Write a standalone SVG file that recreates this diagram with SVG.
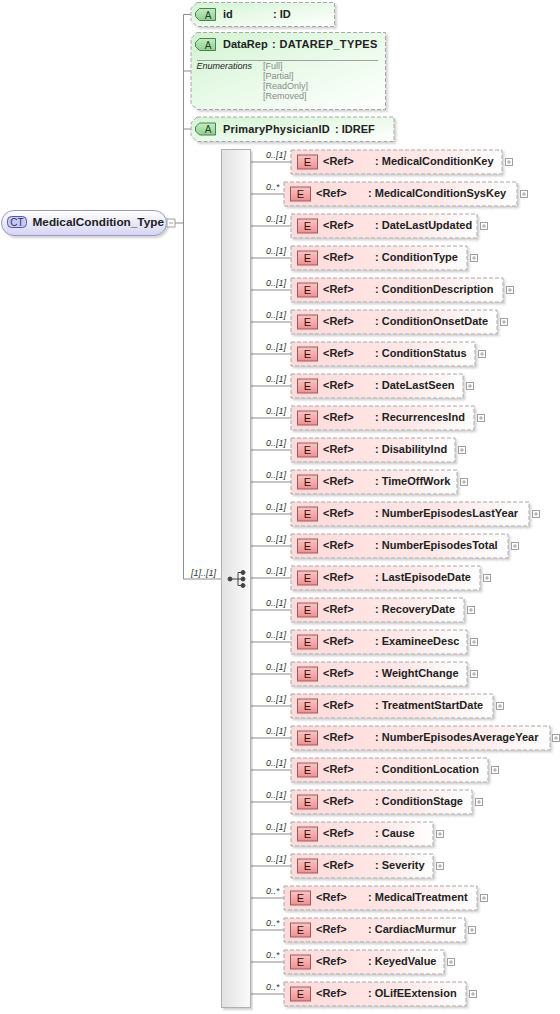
<svg xmlns="http://www.w3.org/2000/svg" xmlns:xlink="http://www.w3.org/1999/xlink" width="560" height="1014" viewBox="0 0 560 1014">
<style>
text{font-family:"Liberation Sans",Arial,Helvetica,sans-serif}
.b{font-weight:bold;font-size:11px;fill:#222}
.card{font-style:italic;font-size:9px;fill:#333}
.et{font-size:11px;fill:#3a1010;text-anchor:middle}
.box{fill:url(#elG);stroke:#a8a8a8;stroke-dasharray:4 2;filter:url(#sh)}
.abox{fill:url(#atG);stroke:#a8a8a8;stroke-dasharray:4 2;filter:url(#sh)}
.con{stroke:#8c8c8c;stroke-width:1;fill:none}
.enum{font-size:9px;fill:#8a8a8a}
</style>
<defs>
<filter id="sh" x="-5%" y="-20%" width="112%" height="150%">
<feDropShadow dx="2" dy="2" stdDeviation="1.2" flood-color="#000" flood-opacity="0.18"/>
</filter>
<linearGradient id="elG" x1="0" y1="0" x2="1" y2="0">
<stop offset="0" stop-color="#ffdada"/><stop offset="0.65" stop-color="#ffe8e8"/><stop offset="1" stop-color="#ffffff"/>
</linearGradient>
<linearGradient id="atG" x1="0" y1="0" x2="1" y2="1">
<stop offset="0" stop-color="#d2f4d2"/><stop offset="0.6" stop-color="#eefbee"/><stop offset="1" stop-color="#ffffff"/>
</linearGradient>
<linearGradient id="ctG" x1="0" y1="0" x2="0" y2="1">
<stop offset="0" stop-color="#ffffff"/><stop offset="1" stop-color="#d4d4f6"/>
</linearGradient>
<linearGradient id="ebG" x1="0" y1="0" x2="0" y2="1">
<stop offset="0" stop-color="#fbc4c4"/><stop offset="1" stop-color="#ee9090"/>
</linearGradient>
<linearGradient id="abG" x1="0" y1="0" x2="0" y2="1">
<stop offset="0" stop-color="#c4ecc4"/><stop offset="1" stop-color="#8ed08e"/>
</linearGradient>
<linearGradient id="barG" x1="0" y1="0" x2="1" y2="0">
<stop offset="0" stop-color="#e2e2e2"/><stop offset="1" stop-color="#fafafa"/>
</linearGradient>
<g id="eb"><rect x="0.5" y="0.5" width="20" height="14" fill="url(#ebG)" stroke="#9a5a5a"/></g>
<g id="ab"><path d="M4.5 0.5H20.5V12.5H4.5L0.5 8.5V4.5Z" fill="url(#abG)" stroke="#4f7f4f"/></g>
<g id="pl"><rect x="0.5" y="0.5" width="7" height="7" fill="#fff" stroke="#a0a0a0"/><path d="M2 4H6M4 2V6" stroke="#a0a0a0"/></g>
</defs>

<g id="connectors">
<path class="con" d="M183.5 14.5V579M183.5 14.5H191M183.5 71H191M183.5 129H191M175 223H183.5M183.5 579H221"/>
<text class="card" x="191" y="576">[1]..[1]</text>
<path class="con" d="M251 162H291M251 194H284M251 226H291M251 258H291M251 290H291M251 322H291M251 354H291M251 386H291M251 418H291M251 450H291M251 482H291M251 514H291M251 546H291M251 578H291M251 610H291M251 642H291M251 674H291M251 706H291M251 738H291M251 770H291M251 802H291M251 834H291M251 866H291M251 898H284M251 930H284M251 962H284M251 994H284"/>
<text class="card" x="266" y="158">0..[1]</text>
<text class="card" x="266" y="190">0..*</text>
<text class="card" x="266" y="222">0..[1]</text>
<text class="card" x="266" y="254">0..[1]</text>
<text class="card" x="266" y="286">0..[1]</text>
<text class="card" x="266" y="318">0..[1]</text>
<text class="card" x="266" y="350">0..[1]</text>
<text class="card" x="266" y="382">0..[1]</text>
<text class="card" x="266" y="414">0..[1]</text>
<text class="card" x="266" y="446">0..[1]</text>
<text class="card" x="266" y="478">0..[1]</text>
<text class="card" x="266" y="510">0..[1]</text>
<text class="card" x="266" y="542">0..[1]</text>
<text class="card" x="266" y="574">0..[1]</text>
<text class="card" x="266" y="606">0..[1]</text>
<text class="card" x="266" y="638">0..[1]</text>
<text class="card" x="266" y="670">0..[1]</text>
<text class="card" x="266" y="702">0..[1]</text>
<text class="card" x="266" y="734">0..[1]</text>
<text class="card" x="266" y="766">0..[1]</text>
<text class="card" x="266" y="798">0..[1]</text>
<text class="card" x="266" y="830">0..[1]</text>
<text class="card" x="266" y="862">0..[1]</text>
<text class="card" x="266" y="894">0..*</text>
<text class="card" x="266" y="926">0..*</text>
<text class="card" x="266" y="958">0..*</text>
<text class="card" x="266" y="990">0..*</text>
</g>

<g id="ct-MedicalCondition_Type">
<rect x="1.5" y="210.5" width="165" height="25" rx="12.5" fill="url(#ctG)" stroke="#9a9ac0" filter="url(#sh)"/>
<rect x="7.5" y="216.5" width="19" height="11" rx="4" fill="#c8c8f4" stroke="#5858a0"/>
<text x="17" y="225.5" font-size="10" fill="#30306a" text-anchor="middle">CT</text>
<text class="b" x="32.5" y="226" style="font-size:11.8px">MedicalCondition_Type</text>
<rect x="167" y="219" width="8" height="8" fill="#fff" stroke="#a0a0a0"/>
<path d="M169 223H173" stroke="#a0a0a0"/>
</g>

<g id="attr-id">
<path class="abox" d="M197 2.5H334.5V26.5H197L191 20.5V8.5Z"/>
<use href="#ab" x="195" y="8"/>
<text x="208" y="18.5" font-size="10" fill="#1e401e" text-anchor="middle">A</text>
<text class="b" x="223" y="18">id</text>
<text class="b" x="273" y="18">: ID</text>
</g>

<g id="attr-DataRep">
<path class="abox" d="M197 32.5H385.5V109.5H197L191 103.5V38.5Z"/>
<use href="#ab" x="195" y="38"/>
<text x="208" y="48.5" font-size="10" fill="#1e401e" text-anchor="middle">A</text>
<text class="b" x="223" y="48">DataRep</text>
<text class="b" x="272" y="48" letter-spacing="0.35">: DATAREP_TYPES</text>
<path d="M197 60.5H378" stroke="#a0a0a0"/>
<text x="196.5" y="69" font-size="9" font-style="italic" fill="#222">Enumerations</text>
<text class="enum" x="263" y="69">[Full]</text>
<text class="enum" x="263" y="79">[Partial]</text>
<text class="enum" x="263" y="89">[ReadOnly]</text>
<text class="enum" x="263" y="99">[Removed]</text>
</g>

<g id="attr-PrimaryPhysicianID">
<path class="abox" d="M197 117H394V141.5H197L191 135.5V123Z"/>
<use href="#ab" x="195" y="122.5"/>
<text x="208" y="133" font-size="10" fill="#1e401e" text-anchor="middle">A</text>
<text class="b" x="223" y="132.5" letter-spacing="0.2">PrimaryPhysicianID</text>
<text class="b" x="335" y="132.5">: IDREF</text>
</g>

<g id="sequence">
<rect x="221.5" y="149.5" width="29" height="858" fill="url(#barG)" stroke="#b0b0b0" filter="url(#sh)"/>
<g fill="#444" stroke="#444">
<path d="M230 579H238M238 572.5V585.5M238 572.5H243M238 579H243M238 585.5H243" fill="none"/>
<circle cx="230" cy="579" r="2"/>
<circle cx="243" cy="572.5" r="2"/>
<circle cx="243" cy="579" r="2"/>
<circle cx="243" cy="585.5" r="2"/>
</g>
</g>

<g id="el-MedicalConditionKey">
<rect class="box" x="291" y="150" width="211" height="24"/>
<use href="#eb" x="297" y="154.5"/><text class="et" x="307.5" y="166">E</text>
<text class="b" x="323" y="165">&lt;Ref&gt;</text><text class="b" x="375" y="165">: MedicalConditionKey</text>
<use href="#pl" x="505" y="158"/>
</g>
<g id="el-MedicalConditionSysKey">
<rect class="box" x="284" y="182" width="233" height="24"/>
<use href="#eb" x="290" y="186.5"/><text class="et" x="300.5" y="198">E</text>
<text class="b" x="316" y="197">&lt;Ref&gt;</text><text class="b" x="368" y="197">: MedicalConditionSysKey</text>
<use href="#pl" x="520" y="190"/>
</g>
<g id="el-DateLastUpdated">
<rect class="box" x="291" y="214" width="186" height="24"/>
<use href="#eb" x="297" y="218.5"/><text class="et" x="307.5" y="230">E</text>
<text class="b" x="323" y="229">&lt;Ref&gt;</text><text class="b" x="375" y="229">: DateLastUpdated</text>
<use href="#pl" x="480" y="222"/>
</g>
<g id="el-ConditionType">
<rect class="box" x="291" y="246" width="176" height="24"/>
<use href="#eb" x="297" y="250.5"/><text class="et" x="307.5" y="262">E</text>
<text class="b" x="323" y="261">&lt;Ref&gt;</text><text class="b" x="375" y="261">: ConditionType</text>
<use href="#pl" x="470" y="254"/>
</g>
<g id="el-ConditionDescription">
<rect class="box" x="291" y="278" width="212" height="24"/>
<use href="#eb" x="297" y="282.5"/><text class="et" x="307.5" y="294">E</text>
<text class="b" x="323" y="293">&lt;Ref&gt;</text><text class="b" x="375" y="293">: ConditionDescription</text>
<use href="#pl" x="506" y="286"/>
</g>
<g id="el-ConditionOnsetDate">
<rect class="box" x="291" y="310" width="206" height="24"/>
<use href="#eb" x="297" y="314.5"/><text class="et" x="307.5" y="326">E</text>
<text class="b" x="323" y="325">&lt;Ref&gt;</text><text class="b" x="375" y="325">: ConditionOnsetDate</text>
<use href="#pl" x="500" y="318"/>
</g>
<g id="el-ConditionStatus">
<rect class="box" x="291" y="342" width="184" height="24"/>
<use href="#eb" x="297" y="346.5"/><text class="et" x="307.5" y="358">E</text>
<text class="b" x="323" y="357">&lt;Ref&gt;</text><text class="b" x="375" y="357">: ConditionStatus</text>
<use href="#pl" x="478" y="350"/>
</g>
<g id="el-DateLastSeen">
<rect class="box" x="291" y="374" width="172" height="24"/>
<use href="#eb" x="297" y="378.5"/><text class="et" x="307.5" y="390">E</text>
<text class="b" x="323" y="389">&lt;Ref&gt;</text><text class="b" x="375" y="389">: DateLastSeen</text>
<use href="#pl" x="466" y="382"/>
</g>
<g id="el-RecurrencesInd">
<rect class="box" x="291" y="406" width="183" height="24"/>
<use href="#eb" x="297" y="410.5"/><text class="et" x="307.5" y="422">E</text>
<text class="b" x="323" y="421">&lt;Ref&gt;</text><text class="b" x="375" y="421">: RecurrencesInd</text>
<use href="#pl" x="477" y="414"/>
</g>
<g id="el-DisabilityInd">
<rect class="box" x="291" y="438" width="164" height="24"/>
<use href="#eb" x="297" y="442.5"/><text class="et" x="307.5" y="454">E</text>
<text class="b" x="323" y="453">&lt;Ref&gt;</text><text class="b" x="375" y="453">: DisabilityInd</text>
<use href="#pl" x="458" y="446"/>
</g>
<g id="el-TimeOffWork">
<rect class="box" x="291" y="470" width="166" height="24"/>
<use href="#eb" x="297" y="474.5"/><text class="et" x="307.5" y="486">E</text>
<text class="b" x="323" y="485">&lt;Ref&gt;</text><text class="b" x="375" y="485">: TimeOffWork</text>
<use href="#pl" x="460" y="478"/>
</g>
<g id="el-NumberEpisodesLastYear">
<rect class="box" x="291" y="502" width="238" height="24"/>
<use href="#eb" x="297" y="506.5"/><text class="et" x="307.5" y="518">E</text>
<text class="b" x="323" y="517">&lt;Ref&gt;</text><text class="b" x="375" y="517">: NumberEpisodesLastYear</text>
<use href="#pl" x="532" y="510"/>
</g>
<g id="el-NumberEpisodesTotal">
<rect class="box" x="291" y="534" width="217" height="24"/>
<use href="#eb" x="297" y="538.5"/><text class="et" x="307.5" y="550">E</text>
<text class="b" x="323" y="549">&lt;Ref&gt;</text><text class="b" x="375" y="549">: NumberEpisodesTotal</text>
<use href="#pl" x="511" y="542"/>
</g>
<g id="el-LastEpisodeDate">
<rect class="box" x="291" y="566" width="189" height="24"/>
<use href="#eb" x="297" y="570.5"/><text class="et" x="307.5" y="582">E</text>
<text class="b" x="323" y="581">&lt;Ref&gt;</text><text class="b" x="375" y="581">: LastEpisodeDate</text>
<use href="#pl" x="483" y="574"/>
</g>
<g id="el-RecoveryDate">
<rect class="box" x="291" y="598" width="173" height="24"/>
<use href="#eb" x="297" y="602.5"/><text class="et" x="307.5" y="614">E</text>
<text class="b" x="323" y="613">&lt;Ref&gt;</text><text class="b" x="375" y="613">: RecoveryDate</text>
<use href="#pl" x="467" y="606"/>
</g>
<g id="el-ExamineeDesc">
<rect class="box" x="291" y="630" width="176" height="24"/>
<use href="#eb" x="297" y="634.5"/><text class="et" x="307.5" y="646">E</text>
<text class="b" x="323" y="645">&lt;Ref&gt;</text><text class="b" x="375" y="645">: ExamineeDesc</text>
<use href="#pl" x="470" y="638"/>
</g>
<g id="el-WeightChange">
<rect class="box" x="291" y="662" width="176" height="24"/>
<use href="#eb" x="297" y="666.5"/><text class="et" x="307.5" y="678">E</text>
<text class="b" x="323" y="677">&lt;Ref&gt;</text><text class="b" x="375" y="677">: WeightChange</text>
<use href="#pl" x="470" y="670"/>
</g>
<g id="el-TreatmentStartDate">
<rect class="box" x="291" y="694" width="202" height="24"/>
<use href="#eb" x="297" y="698.5"/><text class="et" x="307.5" y="710">E</text>
<text class="b" x="323" y="709">&lt;Ref&gt;</text><text class="b" x="375" y="709">: TreatmentStartDate</text>
<use href="#pl" x="496" y="702"/>
</g>
<g id="el-NumberEpisodesAverageYear">
<rect class="box" x="291" y="726" width="259" height="24"/>
<use href="#eb" x="297" y="730.5"/><text class="et" x="307.5" y="742">E</text>
<text class="b" x="323" y="741">&lt;Ref&gt;</text><text class="b" x="375" y="741">: NumberEpisodesAverageYear</text>
<use href="#pl" x="552" y="734"/>
</g>
<g id="el-ConditionLocation">
<rect class="box" x="291" y="758" width="197" height="24"/>
<use href="#eb" x="297" y="762.5"/><text class="et" x="307.5" y="774">E</text>
<text class="b" x="323" y="773">&lt;Ref&gt;</text><text class="b" x="375" y="773">: ConditionLocation</text>
<use href="#pl" x="491" y="766"/>
</g>
<g id="el-ConditionStage">
<rect class="box" x="291" y="790" width="181" height="24"/>
<use href="#eb" x="297" y="794.5"/><text class="et" x="307.5" y="806">E</text>
<text class="b" x="323" y="805">&lt;Ref&gt;</text><text class="b" x="375" y="805">: ConditionStage</text>
<use href="#pl" x="475" y="798"/>
</g>
<g id="el-Cause">
<rect class="box" x="291" y="822" width="142" height="24"/>
<use href="#eb" x="297" y="826.5"/><text class="et" x="307.5" y="838">E</text>
<text class="b" x="323" y="837">&lt;Ref&gt;</text><text class="b" x="375" y="837">: Cause</text>
<use href="#pl" x="436" y="830"/>
</g>
<g id="el-Severity">
<rect class="box" x="291" y="854" width="142" height="24"/>
<use href="#eb" x="297" y="858.5"/><text class="et" x="307.5" y="870">E</text>
<text class="b" x="323" y="869">&lt;Ref&gt;</text><text class="b" x="375" y="869">: Severity</text>
<use href="#pl" x="436" y="862"/>
</g>
<g id="el-MedicalTreatment">
<rect class="box" x="284" y="886" width="193" height="24"/>
<use href="#eb" x="290" y="890.5"/><text class="et" x="300.5" y="902">E</text>
<text class="b" x="316" y="901">&lt;Ref&gt;</text><text class="b" x="368" y="901">: MedicalTreatment</text>
<use href="#pl" x="480" y="894"/>
</g>
<g id="el-CardiacMurmur">
<rect class="box" x="284" y="918" width="181" height="24"/>
<use href="#eb" x="290" y="922.5"/><text class="et" x="300.5" y="934">E</text>
<text class="b" x="316" y="933">&lt;Ref&gt;</text><text class="b" x="368" y="933">: CardiacMurmur</text>
<use href="#pl" x="468" y="926"/>
</g>
<g id="el-KeyedValue">
<rect class="box" x="284" y="950" width="160" height="24"/>
<use href="#eb" x="290" y="954.5"/><text class="et" x="300.5" y="966">E</text>
<text class="b" x="316" y="965">&lt;Ref&gt;</text><text class="b" x="368" y="965">: KeyedValue</text>
<use href="#pl" x="447" y="958"/>
</g>
<g id="el-OLifEExtension">
<rect class="box" x="284" y="982" width="182" height="24"/>
<use href="#eb" x="290" y="986.5"/><text class="et" x="300.5" y="998">E</text>
<text class="b" x="316" y="997">&lt;Ref&gt;</text><text class="b" x="368" y="997">: OLifEExtension</text>
<use href="#pl" x="469" y="990"/>
</g>
</svg>
